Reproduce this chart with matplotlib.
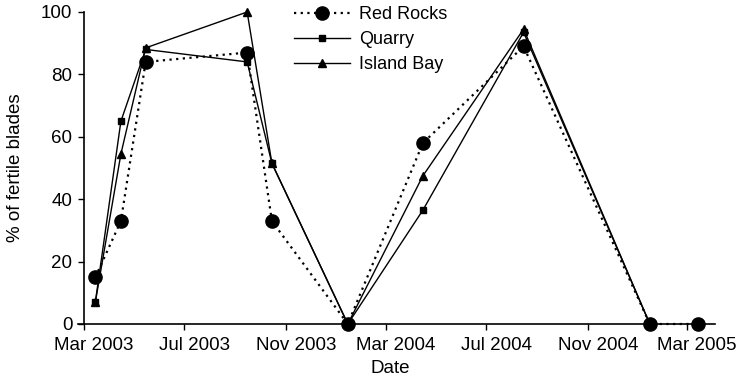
import numpy as np
import pandas as pd
import matplotlib
matplotlib.use('Agg')
import matplotlib.pyplot as plt
import matplotlib.dates as mdates
from matplotlib.transforms import ScaledTranslation

plt.rcParams['font.family'] = ['Liberation Sans', 'DejaVu Sans']

# sampling dates (mid month)
dates = pd.to_datetime(['2003-03-15', '2003-04-15', '2003-05-15', '2003-09-15',
                        '2003-10-15', '2004-01-15', '2004-04-15', '2004-08-15',
                        '2005-01-15', '2005-03-15'])
red_rocks = [15, 33, 84, 87, 33, 0, 58, 89, 0, 0]
quarry = [7, 65, 88, 84, 51.5, 0, 36.5, 93.5, 0]
island_bay = [7, 54.5, 88.5, 100, 51.5, 0, 47.5, 94.5, 0]

tick_dates = pd.to_datetime(['2003-03-01', '2003-07-01', '2003-11-01', '2004-03-01',
                             '2004-07-01', '2004-11-01', '2005-03-01'])
tick_labels = ['Mar 2003', 'Jul 2003', 'Nov 2003', 'Mar 2004',
               'Jul 2004', 'Nov 2004', 'Mar 2005']

W, H = 743, 379
fig = plt.figure(figsize=(W / 100, H / 100), dpi=100)
ax = fig.add_axes([78 / W, (H - 324) / H, (715 - 78) / W, (324 - 12) / H])

ax.plot(dates, red_rocks, color='black', linestyle=(0, (1, 2)), linewidth=1.6,
        marker='o', markersize=9.5, label='Red Rocks', clip_on=False, zorder=3)
ax.plot(dates[:9], quarry, color='black', linestyle='-', linewidth=1.0,
        marker='s', markersize=4.5, label='Quarry', clip_on=False)
ax.plot(dates[:9], island_bay, color='black', linestyle='-', linewidth=1.0,
        marker='^', markersize=5.5, label='Island Bay', clip_on=False)

ax.set_xlim(pd.Timestamp('2003-02-22'), pd.Timestamp('2005-04-04'))
ax.set_ylim(0, 100)
ax.spines['top'].set_visible(False)
ax.spines['right'].set_visible(False)
ax.spines['left'].set_position(('data', mdates.date2num(pd.Timestamp('2003-03-01'))))
ax.spines['left'].set_linewidth(1.2)
ax.spines['bottom'].set_linewidth(1.2)

ax.set_xticks(tick_dates)
ax.set_xticklabels(tick_labels)
ax.set_yticks([0, 20, 40, 60, 80, 100])
ax.tick_params(axis='both', direction='out', length=4.2, width=1, labelsize=13.5)
ax.tick_params(axis='x', pad=5.5)
ax.tick_params(axis='y', pad=4)
offset = ScaledTranslation(10 / 100, 0, fig.dpi_scale_trans)
for lab in ax.get_xticklabels():
    lab.set_transform(lab.get_transform() + offset)

ax.set_xlabel('Date', fontsize=13.5)
ax.xaxis.set_label_coords((390 - 78) / (715 - 78), -(360 - 324) / 312)
ax.set_ylabel('% of fertile blades', fontsize=13.5)
ax.yaxis.set_label_coords(-(78 - 24) / (715 - 78), 0.5)

ax.legend(loc='upper left', bbox_to_anchor=(294 / W, 1 - 6 / H),
          bbox_transform=fig.transFigure, frameon=False, fontsize=13,
          handlelength=3.1, handletextpad=0.5, labelspacing=0.45,
          borderpad=0, borderaxespad=0)

fig.savefig('out.png', dpi=100)
